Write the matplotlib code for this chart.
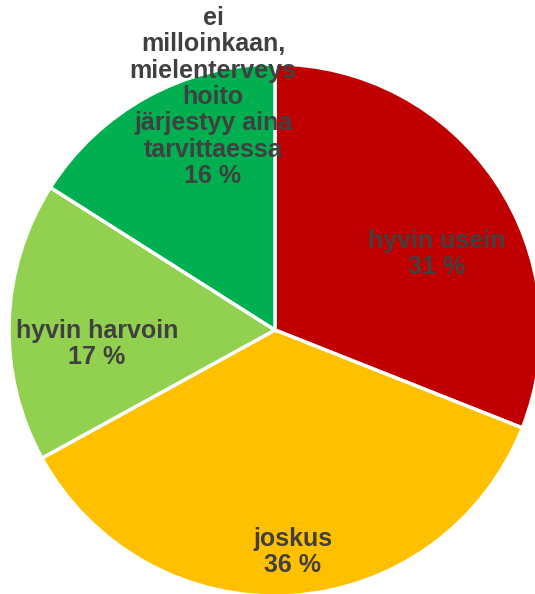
import matplotlib
matplotlib.use("Agg")
import matplotlib.pyplot as plt

# ── data ─────────────────────────────────────────────────────────────────────
categories = [
    "hyvin usein",
    "joskus",
    "hyvin harvoin",
    "ei\nmilloinkaan,\nmielenterveys\nhoito\njärjestyy aina\ntarvittaessa",
]
shares = [31, 36, 17, 16]
colors = ["#C00000", "#FFC000", "#92D050", "#00B050"]

# label centres in pixel coords (x from left, y from top)
label_pos = [(437, 254), (293, 552), (97, 344), (213, 97)]

W, H = 535, 594
plt.rcParams["font.family"] = ["Liberation Sans", "DejaVu Sans"]

fig = plt.figure(figsize=(W / 100, H / 100), dpi=100)
ax = fig.add_axes([0, 0, 1, 1])

cx, cy, r = 275, 330, 266
ax.pie(
    shares, colors=colors, startangle=90, counterclock=False,
    center=(cx, H - cy), radius=r,
    wedgeprops=dict(edgecolor="white", linewidth=2.5),
)
ax.set_xlim(0, W)
ax.set_ylim(0, H)
ax.set_aspect("equal")
ax.axis("off")

for name, val, (lx, ly) in zip(categories, shares, label_pos):
    ax.text(lx, H - ly, f"{name}\n{val} %", ha="center", va="center",
            fontsize=18, fontweight="bold", color="#404040",
            linespacing=1.13)

fig.savefig("out.png", dpi=100, facecolor="white")
